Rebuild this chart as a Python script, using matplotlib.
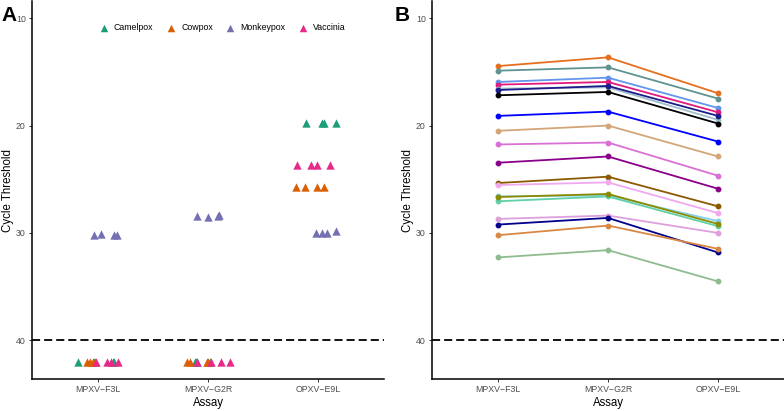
import matplotlib.pyplot as plt
import numpy as np

plt.rcParams['font.family'] = ['Liberation Sans', 'DejaVu Sans']

assays = ['MPXV\u2212F3L', 'MPXV\u2212G2R', 'OPXV\u2212E9L']
viruses = ['Camelpox', 'Cowpox', 'Monkeypox', 'Vaccinia']
virus_colors = ['#1B9E77', '#D95F02', '#7570B3', '#E7298A']

# panel A: Ct per virus, one row per assay (42 = not detected)
camelpox_ct = [[42, 42, 42, 42], [42, 42, 42, 42], [19.72, 19.8, 19.75, 19.72]]
cowpox_ct = [[42, 42, 42, 42], [42, 42, 42, 42], [25.75, 25.75, 25.75, 25.75]]
monkeypox_ct = [[30.2, 30.1, 30.2, 30.15], [28.45, 28.5, 28.35, 28.4], [30.0, 30.05, 30.0, 29.8]]
vaccinia_ct = [[42, 42, 42, 42], [42, 42, 42, 42], [23.65, 23.65, 23.65, 23.65]]

# horizontal jitter
camelpox_jit = [[-0.18, -0.04, 0.15, 0.14], [-0.12, -0.11, -0.10, 0.02], [-0.11, 0.04, 0.05, 0.16]]
cowpox_jit = [[-0.10, -0.07, -0.05, -0.03], [-0.19, -0.16, 0.0, -0.01], [-0.20, -0.12, -0.01, 0.055]]
monkeypox_jit = [[-0.04, 0.03, 0.15, 0.17], [-0.10, 0.0, 0.10, 0.09], [-0.02, 0.04, 0.08, 0.16]]
vaccinia_jit = [[-0.02, 0.08, 0.12, 0.18], [-0.10, 0.03, 0.12, 0.20], [-0.19, -0.06, -0.01, 0.11]]

# panel B: one line per sample (F3L, G2R, E9L)
sample_ct = [
    [14.46, 13.65, 16.99],
    [14.89, 14.58, 17.49],
    [15.94, 15.54, 18.36],
    [16.19, 15.94, 18.76],
    [16.56, 16.44, 19.47],
    [16.69, 16.31, 19.10],
    [17.18, 16.87, 19.81],
    [19.10, 18.70, 21.49],
    [20.49, 20.00, 22.88],
    [21.76, 21.58, 24.67],
    [23.46, 22.88, 25.88],
    [25.35, 24.76, 27.52],
    [25.54, 25.29, 28.15],
    [26.60, 26.50, 28.90],
    [27.05, 26.60, 29.37],
    [26.65, 26.37, 29.16],
    [28.69, 28.38, 30.00],
    [29.22, 28.60, 31.82],
    [30.21, 29.31, 31.48],
    [32.28, 31.60, 34.51],
]
sample_colors = ['#E66F1E', '#5F9391', '#6495ED', '#E31A7C', '#9FBFCB', '#1C1C8A',
                 '#000000', '#0000FF', '#D2A679', '#DA70D6', '#8B008B', '#8B5A00',
                 '#F0A8EE', '#87CEEB', '#5FD0A8', '#8B8B00', '#DDA0DD', '#00008B',
                 '#D98844', '#8FBC8F']

cutoff = 40


def style_axis(ax):
    ax.set_ylim(43.6, 8.4)
    ax.set_xlim(0.4, 3.6)
    ax.set_yticks([10, 20, 30, 40])
    ax.set_xticks([1, 2, 3])
    ax.set_xticklabels(assays)
    for s in ['top', 'right']:
        ax.spines[s].set_visible(False)
    for s in ['left', 'bottom']:
        ax.spines[s].set_linewidth(1.1)
        ax.spines[s].set_color('black')
    ax.tick_params(labelsize=6.3, labelcolor='#4D4D4D', color='#333333',
                   length=2.5, width=0.7, pad=2)
    ax.set_xlabel('Assay', fontsize=8.3, labelpad=2)
    ax.set_ylabel('Cycle Threshold', fontsize=8.3, labelpad=1.5)
    ax.axhline(cutoff, color='black', lw=1.3, linestyle=(0, (4.5, 2.2)))


fig = plt.figure(figsize=(7.84, 4.11), dpi=100)
axA = fig.add_axes([32 / 784, 32 / 411, 352 / 784, 378 / 411])
axB = fig.add_axes([432 / 784, 32 / 411, 352 / 784, 378 / 411])

cts = [camelpox_ct, cowpox_ct, monkeypox_ct, vaccinia_ct]
jits = [camelpox_jit, cowpox_jit, monkeypox_jit, vaccinia_jit]
for name, col, ct, jit in zip(viruses, virus_colors, cts, jits):
    xs, ys = [], []
    for i in range(len(assays)):
        xs += list(np.array(jit[i]) + i + 1)
        ys += ct[i]
    axA.scatter(xs, ys, marker='^', s=36, color=col, linewidths=0, label=name)

style_axis(axA)
axA.legend(loc='center', bbox_to_anchor=(0.535, 0.93), ncol=4, frameon=False,
           fontsize=6.3, handletextpad=0.15, columnspacing=1.0, markerscale=0.9)

x = np.arange(1, len(assays) + 1)
for vals, col in zip(sample_ct, sample_colors):
    axB.plot(x, vals, color=col, lw=1.3, marker='o', markersize=3.2)
style_axis(axB)

fig.text(0.002, 0.985, 'A', fontsize=15, fontweight='bold', va='top')
fig.text(0.503, 0.985, 'B', fontsize=15, fontweight='bold', va='top')

fig.savefig('out.png', dpi=100)
